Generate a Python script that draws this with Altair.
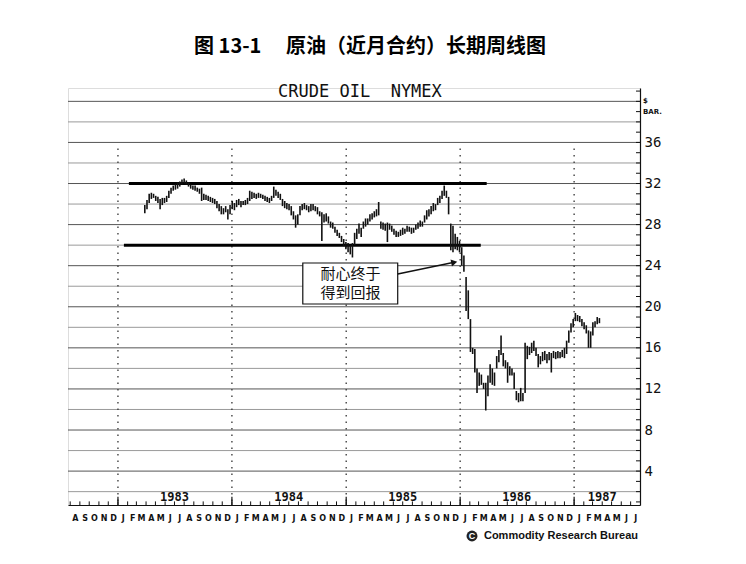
import altair as alt
import pandas as pd

W, H = 572, 417

# ---------------- data (weekly high / low) ----------------
week_start = "1983-03-28"
highs = [
    29.9, 30.4, 31.0, 31.1, 31.0, 30.8, 30.7, 30.5, 30.6, 30.6,
    30.8, 31.3, 31.6, 31.8, 31.9, 32.1, 32.2, 32.4, 32.5, 32.3,
    32.1, 31.9, 31.8, 31.8, 31.6, 31.5, 31.6, 31.0, 30.9, 30.8,
    30.7, 30.6, 30.5, 30.3, 30.0, 29.8, 29.6, 29.8, 29.5, 29.9,
    30.3, 30.1, 30.4, 30.5, 30.3, 30.3, 30.4, 30.6, 31.3, 31.2,
    31.1, 31.0, 31.1, 31.0, 30.9, 30.8, 30.7, 30.6, 30.8, 31.7,
    31.4, 31.2, 31.0, 30.5, 30.3, 30.1, 30.0, 29.8, 29.3, 28.9,
    29.0, 29.8, 30.0, 30.1, 29.9, 29.8, 30.0, 30.0, 29.8, 29.7,
    29.3, 29.2, 29.0, 29.1, 28.8, 28.3, 28.2, 27.8, 27.5, 27.2,
    26.9, 26.6, 26.3, 26.2, 26.0, 26.2, 27.2, 27.6, 28.1, 27.7,
    28.3, 28.6, 28.6, 29.0, 29.1, 29.3, 29.5, 30.2, 28.3, 28.2,
    28.1, 28.2, 28.1, 27.9, 27.6, 27.4, 27.3, 27.5, 27.7, 27.6,
    27.9, 27.8, 27.7, 27.7, 28.0, 28.2, 28.4, 28.3, 28.9, 29.4,
    29.5, 29.8, 30.1, 30.0, 30.6, 30.8, 31.3, 31.8, 31.3, 30.7,
    28.1, 27.9, 27.1, 26.8, 26.4, 25.8, 25.0, 22.9, 21.6, 18.8,
    16.0, 15.9, 14.0, 13.6, 13.4, 12.6, 12.6, 13.3, 14.4, 14.0,
    13.6, 15.2, 15.8, 17.2, 15.5, 14.8, 14.6, 14.2, 14.0, 13.6,
    11.8, 11.6, 12.1, 11.6, 16.5, 16.2, 16.1, 16.5, 16.7, 16.0,
    15.4, 15.2, 15.6, 15.7, 15.4, 15.6, 15.5, 15.7, 15.6, 15.7,
    15.6, 15.8, 16.0, 16.7, 17.7, 18.4, 18.8, 19.4, 19.2, 19.1,
    18.8, 18.5, 18.2, 17.7, 17.6, 18.5, 18.6, 19.0, 18.9,
]
lows = [
    29.1, 29.5, 30.1, 30.5, 30.6, 30.3, 30.1, 29.5, 29.9, 30.1,
    30.2, 30.6, 31.0, 31.3, 31.4, 31.5, 31.7, 31.9, 32.0, 31.9,
    31.7, 31.5, 31.4, 31.3, 31.2, 31.0, 30.3, 30.4, 30.4, 30.3,
    30.2, 30.1, 30.0, 29.6, 29.3, 29.0, 29.0, 29.2, 28.5, 29.0,
    29.5, 29.4, 29.7, 29.9, 29.7, 29.9, 29.9, 30.0, 30.3, 30.5,
    30.6, 30.5, 30.6, 30.6, 30.5, 30.3, 30.2, 30.1, 30.3, 30.6,
    30.8, 30.6, 30.4, 29.8, 29.6, 29.5, 29.4, 28.9, 28.5, 27.7,
    28.0, 28.9, 29.4, 29.5, 29.4, 29.2, 29.3, 29.4, 29.3, 29.0,
    28.8, 26.4, 28.2, 28.3, 28.1, 27.7, 27.6, 27.2, 26.9, 26.7,
    26.3, 25.9, 25.6, 25.3, 25.1, 24.8, 26.0, 26.6, 27.1, 26.8,
    27.6, 27.8, 28.0, 28.3, 28.5, 28.7, 28.8, 28.9, 27.6, 27.5,
    27.4, 26.3, 27.5, 27.3, 27.0, 26.8, 26.8, 26.9, 27.0, 27.1,
    27.3, 27.3, 27.1, 27.2, 27.5, 27.6, 27.8, 27.8, 28.2, 28.5,
    28.8, 29.0, 29.3, 29.4, 29.9, 30.1, 30.5, 30.8, 30.6, 29.0,
    25.5, 25.3, 25.6, 25.5, 25.3, 24.0, 23.4, 19.6, 18.8, 15.6,
    15.4, 13.6, 11.6, 12.3, 12.4, 12.0, 9.9, 11.3, 12.6, 12.4,
    12.3, 14.0, 14.6, 15.3, 14.2, 14.0, 12.6, 13.3, 13.3, 12.0,
    10.9, 10.7, 10.8, 10.8, 11.6, 14.9, 15.3, 15.5, 15.7, 15.2,
    14.1, 14.4, 14.7, 14.8, 14.5, 14.8, 13.6, 15.0, 14.9, 15.0,
    15.0, 15.1, 15.0, 15.4, 16.5, 17.5, 18.0, 18.6, 18.6, 18.5,
    18.1, 17.8, 17.4, 16.0, 16.0, 17.2, 18.0, 18.3, 18.4,
]

grid_levels = list(range(2, 41, 2))
label_levels = [4, 8, 12, 16, 20, 24, 28, 32, 36]
unit_ticks = list(range(1, 42))
year_labels = ["1983", "1984", "1985", "1986", "1987"]
year_starts = ["1983-01-01", "1984-01-01", "1985-01-01", "1986-01-01", "1987-01-01"]
year_mids = ["1983-07-01", "1984-07-01", "1985-07-01", "1986-07-01", "1987-04-01"]

trend_levels = [32, 26]
trend_starts = ["1983-02-05", "1983-01-20"]
trend_ends = ["1986-03-27", "1986-03-08"]

title_text = "图 13-1\u3000 原油（近月合约）长期周线图"
chart_label = "CRUDE\u00a0OIL\u00a0\u00a0NYMEX"
note_lines = ["耐心终于", "得到回报"]
credit = "Commodity Research Bureau"

# ---------------- tables ----------------
bars = pd.DataFrame({
    "date": pd.date_range(week_start, periods=len(highs), freq="7D"),
    "high": highs,
    "low": lows,
})
grid_df = pd.DataFrame({"level": grid_levels})
unit_df = pd.DataFrame({"v": unit_ticks})
years_df = pd.DataFrame({
    "label": year_labels,
    "start": pd.to_datetime(year_starts),
    "mid": pd.to_datetime(year_mids),
})
months_df = pd.DataFrame({"m": pd.date_range("1982-08-01", "1987-07-01", freq="MS")})
trend_df = pd.DataFrame({
    "level": trend_levels,
    "start": pd.to_datetime(trend_starts),
    "end": pd.to_datetime(trend_ends),
})

# annotation placement
label_df = pd.DataFrame({"d": pd.to_datetime(["1985-02-14"]), "p": [40.88], "t": [chart_label]})
box_df = pd.DataFrame({"d1": pd.to_datetime(["1984-08-15"]), "d2": pd.to_datetime(["1985-06-15"]),
                       "top": [24.26], "bot": [20.27]})
note_df = pd.DataFrame({"d": pd.to_datetime(["1985-01-15", "1985-01-15"]),
                        "p": [23.15, 21.3], "t": note_lines})
arrow_df = pd.DataFrame({"d": pd.to_datetime(["1985-06-15", "1985-12-13"]), "p": [23.19, 24.33], "k": [0, 1]})
head_df = arrow_df[arrow_df.k == 1]
one = pd.DataFrame({"a": [0]})

# ---------------- scales / axes ----------------
xs = alt.Scale(domain=[alt.DateTime(year=1982, month=7, date=25),
                       alt.DateTime(year=1987, month=7, date=31)], nice=False)
ys = alt.Scale(domain=[0.7, 41.3], nice=False, zero=False)

x_axis = alt.Axis(
    title=None, tickCount={"interval": "month", "step": 1},
    labelExpr="slice(timeFormat(datum.value, '%b'), 0, 1)",
    labelOffset=4.7, ticks=False, grid=False,
    domainColor="#111", domainWidth=1.2,
    labelFont="DejaVu Sans", labelFontWeight="bold", labelFontSize=8,
    labelColor="#111", labelPadding=9, labelOverlap=False, labelFlush=False,
)
y_axis = alt.Axis(
    orient="right", title=None, values=label_levels, ticks=False, grid=False,
    domainColor="#111", domainWidth=1.2,
    labelFont="DejaVu Sans Mono", labelFontSize=14, labelColor="#111", labelPadding=4,
)

def X(f):
    return alt.X(f, scale=xs, axis=x_axis)

def Y(f):
    return alt.Y(f, scale=ys, axis=y_axis)

grid = alt.Chart(grid_df).mark_rule(strokeWidth=1).encode(
    y=Y("level:Q"),
    color=alt.condition("datum.level % 4 == 0", alt.value("#555"), alt.value("#9a9a9a")),
)
unit = alt.Chart(unit_df).mark_rule(color="#111", strokeWidth=1).encode(
    y=Y("v:Q"), x=alt.value(W - 4), x2=alt.value(W)
)
dotted = alt.Chart(years_df).mark_rule(strokeDash=[1.5, 5], strokeWidth=1.3, color="#333").encode(
    x=X("start:T"), y=alt.datum(35.4), y2=alt.datum(0.7)
)
mticks = alt.Chart(months_df).mark_rule(color="#111", strokeWidth=1).encode(
    x=X("m:T"), y=alt.datum(0.7), y2=alt.datum(1.05)
)
yticks = alt.Chart(years_df).mark_rule(color="#111", strokeWidth=1.2).encode(
    x=X("start:T"), y=alt.datum(0.7), y2=alt.datum(1.5)
)
ylab = alt.Chart(years_df).mark_text(font="DejaVu Sans Mono", fontWeight="bold", fontSize=12,
                                     color="#111", baseline="middle").encode(
    x=X("mid:T"), y=alt.datum(1.5), text="label:N"
)
price = alt.Chart(bars).mark_rule(strokeWidth=1.6, color="#111").encode(
    x=X("date:T"), y=Y("low:Q"), y2="high:Q"
)
trend = alt.Chart(trend_df).mark_rule(strokeWidth=3, color="#000").encode(
    x=X("start:T"), x2="end:T", y=Y("level:Q")
)
clabel = alt.Chart(label_df).mark_text(font="DejaVu Sans Mono", fontSize=17, color="#111",
                                       baseline="middle").encode(
    x=X("d:T"), y=Y("p:Q"), text="t:N"
)
box = alt.Chart(box_df).mark_rect(fill="white", stroke="#111", strokeWidth=1.2).encode(
    x=X("d1:T"), x2="d2:T", y=Y("top:Q"), y2="bot:Q"
)
note = alt.Chart(note_df).mark_text(font="Noto Sans CJK SC", fontSize=15, color="#111",
                                    baseline="middle").encode(
    x=X("d:T"), y=Y("p:Q"), text="t:N"
)
arrow = alt.Chart(arrow_df).mark_line(color="#111", strokeWidth=1.5).encode(
    x=X("d:T"), y=Y("p:Q"), order="k:Q"
)
head = alt.Chart(head_df).mark_point(shape="triangle-right", filled=True, size=50,
                                     angle=348, color="#111", opacity=1).encode(
    x=X("d:T"), y=Y("p:Q")
)
unit_lbl = alt.Chart(pd.DataFrame({"t": ["$", "BAR."], "yy": [13, 24]})).mark_text(
    font="DejaVu Sans", fontWeight="bold", fontSize=7, align="left", color="#111"
).encode(x=alt.value(W + 3), y=alt.Y("yy:Q", scale=None), text="t:N")
credit_txt = alt.Chart(one).mark_text(font="Liberation Sans", fontWeight="bold", fontSize=11,
                                      align="right", baseline="middle", color="#111",
                                      text=credit).encode(
    x=alt.value(W - 2), y=alt.value(H + 31)
)
logo = alt.Chart(one).mark_point(shape="circle", filled=True, size=120, color="#222",
                                 opacity=1).encode(x=alt.value(W - 168), y=alt.value(H + 31))
logo_c = alt.Chart(one).mark_text(font="Liberation Sans", fontWeight="bold", fontSize=9,
                                  color="white", baseline="middle", text="C").encode(
    x=alt.value(W - 168), y=alt.value(H + 31)
)

chart = alt.layer(
    grid, unit, dotted, mticks, yticks, ylab, trend, price, clabel,
    box, note, arrow, head, unit_lbl, credit_txt, logo, logo_c,
).properties(
    width=W, height=H,
    padding={"left": 60, "top": 80, "right": 98, "bottom": 51},
    autosize=alt.AutoSizeParams(type="none"),
    title=alt.TitleParams(title_text, font="Noto Sans CJK SC", fontSize=20, fontWeight="bold",
                          color="#000", anchor="middle", frame="group", offset=26, dx=16),
).configure_view(stroke=None).configure(background="white")

chart.save("out.html", embed_options={"renderer": "svg", "actions": False})
